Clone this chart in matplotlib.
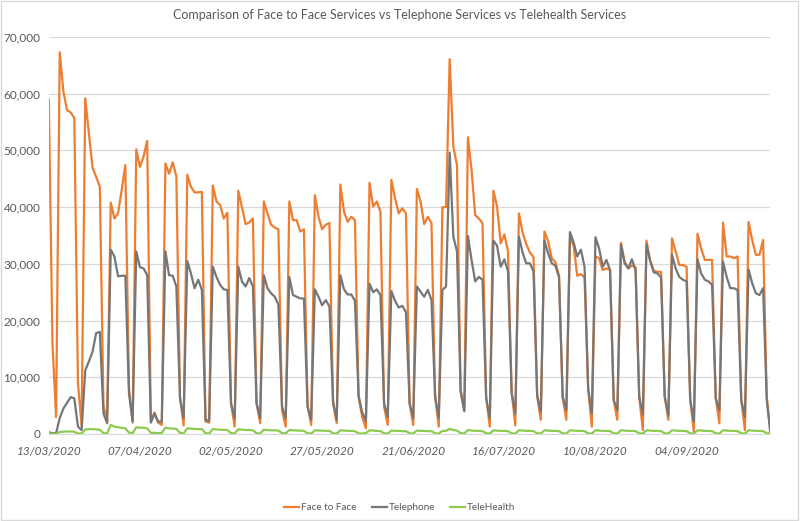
import matplotlib
matplotlib.use("Agg")
import matplotlib.pyplot as plt
import matplotlib.ticker as mticker
from matplotlib.patches import Rectangle

# daily counts from 13/03/2020 (Fri) to 27/09/2020 (Sun)
start_date = "2020-03-13"
tick_labels = ["13/03/2020", "07/04/2020", "02/05/2020", "27/05/2020",
               "21/06/2020", "16/07/2020", "10/08/2020", "04/09/2020"]

face_to_face = [
    59000, 16000, 3000,
    67300, 60400, 57100, 56700, 55700, 9000, 1500,
    59200, 53000, 47000, 45300, 43600, 5000, 2200,
    40800, 38000, 38900, 43000, 47400, 8000, 2000,
    50200, 47100, 48900, 51700, 2200, 3800, 2000,
    1600, 47700, 45900, 47900, 45400, 6500, 1500,
    45700, 43600, 42600, 42600, 42700, 2200, 2000,
    43800, 41000, 40400, 38000, 39000, 5400, 1300,
    42900, 40000, 37000, 37300, 38000, 5500, 1900,
    41000, 38900, 36900, 36400, 36100, 4200, 1300,
    41000, 37700, 37700, 35700, 36100, 5000, 1600,
    42100, 38300, 36100, 36900, 37200, 5400, 1900,
    44000, 39200, 37400, 38300, 37700, 6500, 3000,
    1000, 44300, 40100, 41000, 39200, 4800, 1600,
    44800, 41600, 38900, 39800, 38900, 5400, 1600,
    43200, 41000, 37000, 38300, 37200, 6600, 1300,
    40000, 40000, 66100, 50700, 47400, 7800, 4200,
    52300, 46600, 38600, 38000, 37200, 6600, 1300,
    42900, 40100, 33600, 35200, 32200, 7500, 1500,
    38900, 35500, 33500, 32000, 31200, 6600, 2500,
    35700, 34000, 31000, 30300, 27900, 6400, 2500,
    34500, 33200, 27900, 28200, 27600, 7800, 1300,
    31300, 31000, 28900, 29200, 28900, 6000, 2500,
    33700, 30400, 29200, 29700, 29400, 6600, 700,
    34100, 30600, 28800, 28600, 28600, 6600, 2500,
    34500, 32200, 29800, 29800, 29500, 6000, 400,
    35300, 32700, 30700, 30700, 30700, 6300, 1900,
    37300, 31300, 31300, 31000, 31300, 6000, 700,
    37400, 34200, 31600, 31600, 34200, 6600, 500,
]

telephone = [
    300, 150, 150,
    2800, 4500, 5500, 6500, 6300, 1300, 700,
    11200, 12800, 14500, 17800, 18000, 3600, 1900,
    32500, 31300, 27800, 27900, 27900, 7200, 2200,
    32200, 29400, 29200, 28000, 2000, 3600, 2200,
    2200, 32200, 28000, 27900, 26000, 6300, 2800,
    30500, 28300, 25700, 27200, 25400, 2500, 2300,
    29500, 27700, 26300, 25500, 25400, 5400, 2800,
    29500, 26900, 26000, 27500, 26000, 5400, 2800,
    28000, 25700, 24800, 24200, 22800, 4800, 2800,
    27700, 24500, 24200, 23900, 23900, 4800, 2500,
    25500, 24200, 22700, 23600, 22500, 5700, 2500,
    28000, 25500, 24600, 24600, 23500, 6800, 3800,
    2300, 26500, 25000, 25500, 24500, 5400, 3000,
    25200, 23500, 22300, 22600, 21500, 5400, 2800,
    26000, 25100, 24200, 25400, 23600, 6600, 2800,
    25400, 26000, 49600, 34800, 32200, 7500, 4000,
    34900, 30700, 26900, 27700, 27200, 6300, 2800,
    34100, 33200, 29500, 30800, 28700, 7200, 3600,
    34800, 32000, 30100, 30100, 28700, 6900, 3900,
    34100, 31900, 30100, 29700, 27600, 6600, 4200,
    35600, 33800, 31300, 32500, 29500, 8000, 3600,
    34700, 32700, 29500, 30700, 28900, 6000, 4200,
    33400, 30100, 29200, 30800, 28900, 6600, 3400,
    33400, 30500, 28500, 28300, 27600, 6600, 3200,
    31600, 29200, 27700, 27200, 26900, 6000, 2200,
    30800, 28300, 27200, 26900, 26300, 6300, 4200,
    30400, 27700, 25700, 25700, 25400, 6000, 3000,
    29000, 26600, 24800, 24500, 25700, 6000, 100,
]

telehealth = [
    150, 50, 50,
    350, 400, 450, 450, 400, 100, 80,
    800, 850, 850, 800, 750, 150, 100,
    1600, 1300, 1200, 1100, 1000, 250, 150,
    1200, 1100, 1100, 1000, 200, 200, 150,
    200, 1100, 1000, 950, 900, 200, 120,
    1000, 950, 900, 850, 850, 150, 100,
    900, 800, 750, 750, 700, 150, 100,
    850, 750, 700, 700, 650, 150, 100,
    750, 700, 650, 650, 600, 150, 100,
    700, 650, 600, 600, 550, 120, 80,
    650, 600, 600, 550, 550, 120, 80,
    650, 600, 550, 550, 500, 120, 80,
    150, 650, 600, 550, 500, 120, 80,
    600, 550, 550, 500, 500, 120, 80,
    600, 550, 550, 500, 500, 120, 80,
    550, 550, 900, 700, 600, 150, 100,
    700, 600, 550, 550, 500, 120, 80,
    650, 600, 550, 550, 500, 120, 80,
    650, 600, 550, 550, 500, 120, 80,
    650, 600, 550, 550, 500, 120, 80,
    650, 600, 550, 550, 500, 120, 80,
    650, 600, 550, 550, 500, 120, 80,
    650, 600, 550, 550, 500, 120, 80,
    650, 600, 550, 550, 500, 120, 80,
    650, 600, 550, 550, 500, 120, 80,
    650, 600, 550, 550, 500, 120, 80,
    650, 600, 550, 550, 500, 120, 80,
    650, 600, 550, 550, 500, 120, 50,
]

days = list(range(len(face_to_face)))
tick_days = [0, 25, 50, 75, 100, 125, 150, 175]

plt.rcParams['font.family'] = ['Lato', 'DejaVu Sans']
text_col = "#595959"

fig = plt.figure(figsize=(8, 5.21), dpi=100)
ax = fig.add_axes([0.061, 0.167, 0.902, 0.762])

ax.plot(days, face_to_face, color="#ED7D31", lw=1.6, label="Face to Face", zorder=3)
ax.plot(days, telephone, color="#767676", lw=1.6, label="Telephone", zorder=4)
ax.plot(days, telehealth, color="#8CCB4F", lw=1.6, label="TeleHealth", zorder=5)

ax.set_xlim(0, len(days) - 1)
ax.set_ylim(0, 70000)
ax.yaxis.set_major_locator(mticker.MultipleLocator(10000))
ax.yaxis.set_major_formatter(mticker.FuncFormatter(lambda v, p: f"{int(v):,}"))
ax.set_xticks(tick_days)
ax.set_xticklabels(tick_labels, style="italic")

ax.grid(axis="y", color="#D9D9D9", lw=0.9)
ax.set_axisbelow(True)
for s in ["top", "right", "left"]:
    ax.spines[s].set_visible(False)
ax.spines["bottom"].set_color("#D9D9D9")
ax.tick_params(axis="both", length=0, labelsize=8.5, colors=text_col)
ax.tick_params(axis="x", pad=9)
ax.tick_params(axis="y", pad=6)

fig.suptitle("Comparison of Face to Face Services vs Telephone Services vs Telehealth Services",
             x=0.5, y=0.982, fontsize=9, color=text_col)

fig.legend(loc="lower center", bbox_to_anchor=(0.5, 0.0), ncol=3, frameon=False,
           fontsize=7.2, labelcolor=text_col, handlelength=1.5, columnspacing=1.5,
           handletextpad=0.2)

fig.patches.append(Rectangle((0.001, 0.001), 0.997, 0.997, transform=fig.transFigure,
                             fill=False, edgecolor="#D9D9D9", lw=1))

fig.savefig("out.png", dpi=100)
